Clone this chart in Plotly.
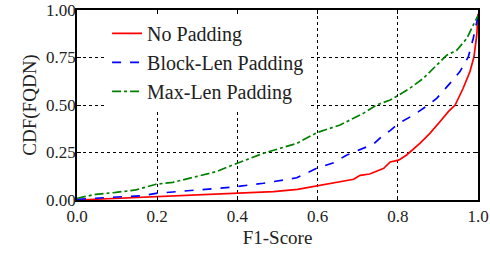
import plotly.graph_objects as go

# Data
red_x = [0, 0.2, 0.39, 0.49, 0.55, 0.6, 0.65, 0.69, 0.706, 0.73, 0.765, 0.781, 0.802, 0.822, 0.855, 0.88, 0.905, 0.926, 0.943, 0.963, 0.98, 0.99, 0.997, 1.0]
red_y = [0.0, 0.017, 0.035, 0.044, 0.056, 0.074, 0.091, 0.109, 0.13, 0.137, 0.167, 0.2, 0.21, 0.237, 0.298, 0.351, 0.412, 0.465, 0.5, 0.588, 0.676, 0.754, 0.87, 0.98]

blue_x = [0, 0.08, 0.164, 0.197, 0.28, 0.388, 0.465, 0.548, 0.598, 0.64, 0.673, 0.698, 0.74, 0.765, 0.781, 0.802, 0.839, 0.876, 0.897, 0.93, 0.955, 0.976, 0.988, 1.0]
blue_y = [0.004, 0.014, 0.023, 0.035, 0.049, 0.068, 0.088, 0.117, 0.167, 0.196, 0.237, 0.26, 0.295, 0.345, 0.365, 0.403, 0.447, 0.5, 0.535, 0.614, 0.676, 0.754, 0.85, 0.965]

green_x = [0, 0.047, 0.097, 0.147, 0.197, 0.239, 0.297, 0.347, 0.388, 0.465, 0.548, 0.598, 0.656, 0.714, 0.747, 0.781, 0.802, 0.83, 0.864, 0.897, 0.922, 0.947, 0.972, 0.988, 1.0]
green_y = [0.009, 0.03, 0.04, 0.053, 0.083, 0.093, 0.123, 0.149, 0.184, 0.246, 0.298, 0.354, 0.395, 0.456, 0.5, 0.526, 0.552, 0.588, 0.641, 0.711, 0.762, 0.788, 0.85, 0.92, 0.97]

series_names = ["No Padding", "Block-Len Padding", "Max-Len Padding"]
x_ticks = [0.0, 0.2, 0.4, 0.6, 0.8, 1.0]
x_ticklabels = ["0.0", "0.2", "0.4", "0.6", "0.8", "1.0"]
y_ticks = [0.0, 0.25, 0.5, 0.75, 1.0]
y_ticklabels = ["0.00", "0.25", "0.50", "0.75", "1.00"]

FONT = "'Liberation Serif', 'DejaVu Serif', serif"

fig = go.Figure()
fig.add_trace(go.Scatter(x=red_x, y=red_y, mode="lines", name=series_names[0],
                         legendgroup="a", line=dict(color="#ff0000", width=1.7, dash="solid")))
fig.add_trace(go.Scatter(x=blue_x, y=blue_y, mode="lines", name=series_names[1],
                         legendgroup="b", line=dict(color="#0000ff", width=1.7, dash="dash")))
fig.add_trace(go.Scatter(x=green_x, y=green_y, mode="lines", name=series_names[2],
                         legendgroup="c", line=dict(color="#008000", width=1.7, dash="dashdot")))

axis_common = dict(
    showline=True, linecolor="black", linewidth=1.5, mirror="ticks",
    ticks="inside", ticklen=4, tickcolor="black", tickwidth=1.2,
    showgrid=True, gridcolor="black", gridwidth=1, griddash="dot",
    zeroline=False, automargin=False, ticklabeloverflow="allow",
    tickfont=dict(family=FONT, size=17, color="#222"),
)

fig.update_xaxes(range=[0, 1], tickvals=x_ticks, ticktext=x_ticklabels,
                 title=dict(text="F1-Score", font=dict(family=FONT, size=19, color="#222"), standoff=6),
                 **axis_common)
fig.update_yaxes(range=[0, 1], tickvals=y_ticks, ticktext=y_ticklabels, ticklabelstandoff=-4,
                 title=dict(text="CDF(FQDN)", font=dict(family=FONT, size=19, color="#222"), standoff=4),
                 **axis_common)

fig.update_layout(
    width=490, height=256,
    margin=dict(l=77, r=12, t=10, b=56),
    paper_bgcolor="white", plot_bgcolor="white",
    showlegend=True,
    legend=dict(x=0.075, y=0.98, xanchor="left", yanchor="top",
                bgcolor="white", borderwidth=0, tracegroupgap=0,
                font=dict(family=FONT, size=20, color="#222")),
)

fig.write_html("out.html", config={"displayModeBar": False},
               post_script="document.body.style.margin='0';document.body.style.padding='0';")
